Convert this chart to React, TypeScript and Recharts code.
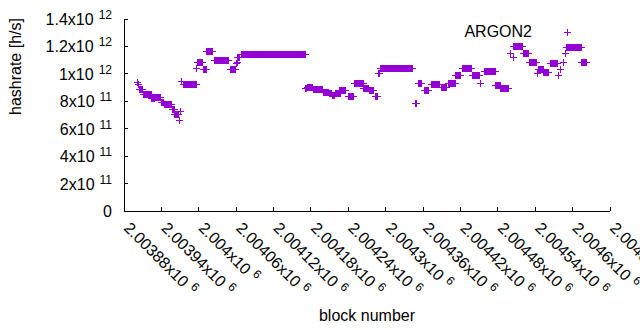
import { ScatterChart, Scatter, XAxis, YAxis } from "recharts";

// hashrate per block, read from the plot as runs of equal values
// (run start block, run end block, hashrate in 1e9 h/s)
const RUN_START = [
  2003901, 2003902, 2003904, 2003911, 2003924, 2003929, 2003939, 2003944, 2003957, 2003961,
  2003968, 2003970, 2003972, 2003975, 2003996, 2003997, 2004006, 2004012, 2004025, 2004050,
  2004060, 2004061, 2004062, 2004067, 2004171, 2004173, 2004184, 2004199, 2004209, 2004214,
  2004219, 2004225, 2004239, 2004249, 2004264, 2004274, 2004283, 2004287, 2004291, 2004347,
  2004352, 2004361, 2004372, 2004388, 2004400, 2004412, 2004423, 2004438, 2004452, 2004457,
  2004476, 2004484, 2004500, 2004504, 2004505, 2004521, 2004530, 2004543, 2004545, 2004553,
  2004564, 2004577, 2004580, 2004585, 2004588, 2004589, 2004614,
];
const RUN_END = [
  2003901, 2003902, 2003909, 2003923, 2003928, 2003938, 2003943, 2003956, 2003960, 2003967,
  2003968, 2003970, 2003972, 2003995, 2003996, 2004005, 2004011, 2004022, 2004047, 2004058,
  2004060, 2004061, 2004065, 2004170, 2004172, 2004182, 2004198, 2004208, 2004213, 2004217,
  2004226, 2004234, 2004248, 2004263, 2004272, 2004280, 2004286, 2004290, 2004343, 2004348,
  2004356, 2004368, 2004385, 2004396, 2004411, 2004420, 2004437, 2004449, 2004452, 2004475,
  2004483, 2004497, 2004500, 2004504, 2004519, 2004529, 2004542, 2004543, 2004552, 2004561,
  2004575, 2004577, 2004580, 2004585, 2004588, 2004613, 2004621,
];
const RUN_HASHRATE = [
  940, 925, 888, 850, 824, 829, 793, 778, 742, 710,
  663, 729, 948, 924, 1040, 1084, 1033, 1164, 1099, 1033,
  1077, 1090, 1125, 1142, 894, 902, 887, 866, 858, 848,
  862, 880, 838, 931, 894, 880, 838, 1004, 1040, 785,
  931, 882, 924, 906, 931, 992, 1040, 992, 931, 1021,
  919, 895, 1150, 1121, 1205, 1150, 1084, 1004, 1035, 1016,
  1077, 992, 1033, 1089, 1150, 1193, 1089,
];

const X_TICKS = [
  2003880, 2003940, 2004000, 2004060, 2004120, 2004180, 2004240,
  2004300, 2004360, 2004420, 2004480, 2004540, 2004600, 2004660,
];
const X_TICK_LABELS = [
  "2.00388", "2.00394", "2.004", "2.00406", "2.00412", "2.00418", "2.00424",
  "2.0043", "2.00436", "2.00442", "2.00448", "2.00454", "2.0046", "2.00466",
];
const Y_TICKS = [0, 2e11, 4e11, 6e11, 8e11, 1e12, 1.2e12, 1.4e12];
const Y_TICK_BASE = ["0", "2x10", "4x10", "6x10", "8x10", "1x10", "1.2x10", "1.4x10"];
const Y_TICK_EXP = ["", "11", "11", "11", "11", "12", "12", "12"];

const PURPLE = "#9400D3";
const FONT = "'Liberation Sans', Arial, sans-serif";

const data: { block: number; rate: number }[] = [];
RUN_START.forEach((start, i) => {
  for (let b = start; b <= RUN_END[i]; b++) {
    data.push({ block: b, rate: RUN_HASHRATE[i] * 1e9 });
  }
});

function Plus({ cx, cy }: { cx?: number; cy?: number }) {
  if (cx == null || cy == null) return null;
  const x = Math.round(cx) + 0.5;
  const y = Math.round(cy) + 0.5;
  return (
    <path
      d={`M${x - 3.5} ${y}H${x + 3.5}M${x} ${y - 3.5}V${y + 3.5}`}
      stroke={PURPLE}
      strokeWidth={1}
      fill="none"
      shapeRendering="crispEdges"
    />
  );
}

function BottomTick(props: any) {
  const { x, y, payload, index } = props;
  const label = X_TICK_LABELS[X_TICKS.indexOf(payload.value)] ?? "";
  const ax = x - 1;
  const ay = y + 18;
  return (
    <g key={index}>
      <line x1={x} y1={y} x2={x} y2={y - 4} stroke="#000" shapeRendering="crispEdges" />
      <text x={ax} y={ay} transform={`rotate(45, ${ax}, ${ay})`} fontSize={16} fontFamily={FONT} fill="#000">
        {label}x10
        <tspan dx={5} dy={-6} fontSize={12}>6</tspan>
      </text>
    </g>
  );
}

function TopTick(props: any) {
  const { x, y } = props;
  return <line x1={x} y1={y} x2={x} y2={y + 4} stroke="#000" shapeRendering="crispEdges" />;
}

function LeftTick(props: any) {
  const { x, y, payload } = props;
  const i = Y_TICKS.indexOf(payload.value);
  return (
    <g>
      <line x1={x} y1={y} x2={x + 4} y2={y} stroke="#000" shapeRendering="crispEdges" />
      <text x={x - 12} y={y + 6} textAnchor="end" fontSize={16} fontFamily={FONT} fill="#000">
        {Y_TICK_BASE[i]}
        {Y_TICK_EXP[i] ? (
          <tspan dx={5} dy={-6} fontSize={12}>{Y_TICK_EXP[i]}</tspan>
        ) : null}
      </text>
    </g>
  );
}

function RightTick(props: any) {
  const { x, y } = props;
  return <line x1={x} y1={y} x2={x - 4} y2={y} stroke="#000" shapeRendering="crispEdges" />;
}

export default function App() {
  const axisLine = { stroke: "#000", shapeRendering: "crispEdges" };
  return (
    <div style={{ position: "absolute", left: 0, top: 0, width: 640, height: 330, background: "#fff" }}>
      <ScatterChart width={640} height={330} margin={{ top: 19, right: 30, bottom: 0, left: 0 }}>
        <XAxis
          xAxisId="b"
          type="number"
          dataKey="block"
          domain={[2003880, 2004660]}
          ticks={X_TICKS}
          interval={0}
          allowDataOverflow
          height={119}
          tickSize={0}
          tickMargin={0}
          tickLine={false}
          axisLine={axisLine}
          tick={BottomTick}
          label={{ value: "block number", position: "insideBottom", offset: 9, fontSize: 16, fontFamily: FONT, fill: "#000" }}
        />
        <XAxis
          xAxisId="t"
          orientation="top"
          type="number"
          domain={[2003880, 2004660]}
          ticks={X_TICKS}
          interval={0}
          allowDataOverflow
          height={0}
          tickSize={0}
          tickMargin={0}
          tickLine={false}
          axisLine={axisLine}
          tick={TopTick}
        />
        <YAxis
          yAxisId="l"
          type="number"
          dataKey="rate"
          domain={[0, 1.4e12]}
          ticks={Y_TICKS}
          interval={0}
          allowDataOverflow
          width={124}
          tickSize={0}
          tickMargin={0}
          tickLine={false}
          axisLine={axisLine}
          tick={LeftTick}
          label={{ value: "hashrate [h/s]", angle: -90, position: "insideLeft", offset: 15, fontSize: 16, fontFamily: FONT, fill: "#000" }}
        />
        <YAxis
          yAxisId="r"
          orientation="right"
          type="number"
          domain={[0, 1.4e12]}
          ticks={Y_TICKS}
          interval={0}
          allowDataOverflow
          width={0}
          tickSize={0}
          tickMargin={0}
          tickLine={false}
          axisLine={axisLine}
          tick={RightTick}
        />
        <Scatter
          xAxisId="b"
          yAxisId="l"
          data={data}
          shape={Plus}
          isAnimationActive={false}
        />
      </ScatterChart>
      <div
        style={{
          position: "absolute",
          left: 420,
          top: 22,
          width: 112,
          textAlign: "right",
          fontFamily: FONT,
          fontSize: 16,
          lineHeight: "19px",
          color: "#000",
        }}
      >
        ARGON2
      </div>
      <svg style={{ position: "absolute", left: 560, top: 25 }} width={16} height={16}>
        <path d="M4 7.5H11M7.5 4V11" stroke={PURPLE} strokeWidth={1} fill="none" shapeRendering="crispEdges" />
      </svg>
    </div>
  );
}
